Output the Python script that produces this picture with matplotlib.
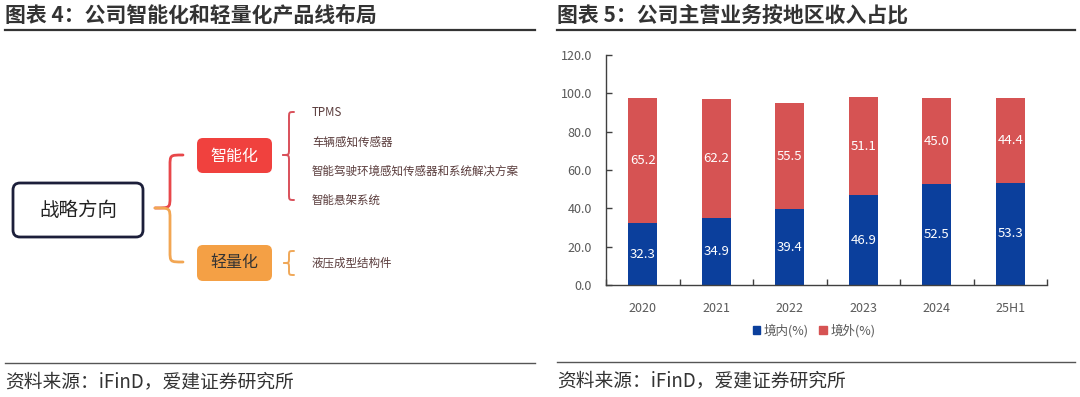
import matplotlib
matplotlib.use("Agg")
import matplotlib.pyplot as plt
from matplotlib.patches import FancyBboxPatch, PathPatch, Patch
from matplotlib.path import Path
import numpy as np

plt.rcParams['font.family'] = ['Noto Sans CJK SC', 'DejaVu Sans']

# ---------------- data ----------------
categories = ['2020', '2021', '2022', '2023', '2024', '25H1']
domestic = [32.3, 34.9, 39.4, 46.9, 52.5, 53.3]
overseas = [65.2, 62.2, 55.5, 51.1, 45.0, 44.4]
series_names = ['境内(%)', '境外(%)']
yticks = [0, 20, 40, 60, 80, 100, 120]

left_title = '图表 4：公司智能化和轻量化产品线布局'
right_title = '图表 5：公司主营业务按地区收入占比'
source_text = '资料来源：iFinD，爱建证券研究所'
root_label = '战略方向'
branch_labels = ['智能化', '轻量化']
smart_items = ['TPMS', '车辆感知传感器', '智能驾驶环境感知传感器和系统解决方案', '智能悬架系统']
light_items = ['液压成型结构件']

BLUE = '#0B3F9C'
RED = '#D65353'
GREY = '#595959'

W, H = 1080, 397
fig = plt.figure(figsize=(W / 100, H / 100), dpi=100)
fig.patch.set_facecolor('white')

ov = fig.add_axes([0, 0, 1, 1])
ov.set_xlim(0, W)
ov.set_ylim(H, 0)
ov.axis('off')

# titles + rules
ov.text(5, 15, left_title, fontsize=15, fontweight='bold', color='#333333', va='center', ha='left')
ov.text(557, 15, right_title, fontsize=15, fontweight='bold', color='#333333', va='center', ha='left')
ov.plot([5, 535], [30, 30], color='#333333', lw=1.6)
ov.plot([557, 1075], [30, 30], color='#333333', lw=1.6)

# footers
ov.plot([5, 535], [363, 363], color='#555555', lw=1.0)
ov.plot([557, 1075], [362, 362], color='#555555', lw=1.0)
ov.text(5, 382, source_text, fontsize=13.5, color='#333333', va='center', ha='left')
ov.text(557, 381, source_text, fontsize=13.5, color='#333333', va='center', ha='left')

# ---------------- left diagram ----------------
def rbox(x0, y0, x1, y1, fc, ec, lw, r=6):
    p = FancyBboxPatch((x0, y0), x1 - x0, y1 - y0,
                       boxstyle=f"round,pad=0,rounding_size={r}",
                       fc=fc, ec=ec, lw=lw)
    ov.add_patch(p)

rbox(13, 183, 143, 237, 'white', '#1c1f3a', 2.0, r=7)
ov.text(78, 210, root_label, fontsize=14, color='#222222', ha='center', va='center')

rbox(197, 138, 272, 173, '#F0413E', 'none', 0, r=6)
ov.text(234.5, 156, branch_labels[0], fontsize=11.5, color='white', ha='center', va='center')
rbox(197, 245, 272, 281, '#F4A045', 'none', 0, r=6)
ov.text(234.5, 263, branch_labels[1], fontsize=11.5, color='#333333', ha='center', va='center')


def half_brace(xt, ym, xb, xe, yend, r, color, lw):
    s = 1 if yend > ym else -1
    verts = [(xe, yend),
             (xb, yend), (xb, yend), (xb, yend - s * r),
             (xb, ym + s * r),
             (xb, ym), (xb, ym), (xt, ym)]
    codes = [Path.MOVETO,
             Path.CURVE4, Path.CURVE4, Path.CURVE4,
             Path.LINETO,
             Path.CURVE4, Path.CURVE4, Path.CURVE4]
    ov.add_patch(PathPatch(Path(verts, codes), fc='none', ec=color, lw=lw,
                           capstyle='round', joinstyle='round'))


# main brace
half_brace(155, 208, 170, 183, 155, 11, '#E8474A', 2.0)
half_brace(155, 208, 170, 183, 262, 11, '#F2A653', 2.0)
# small brace for smart items
half_brace(283, 155, 289, 294, 112, 6, '#D9505A', 1.4)
half_brace(283, 155, 289, 294, 200, 6, '#D9505A', 1.4)
# small brace for light items
half_brace(284, 263, 289, 294, 251, 5, '#F0A858', 1.4)
half_brace(284, 263, 289, 294, 275, 5, '#F0A858', 1.4)

item_y = [112, 142, 171, 200]
for t, y in zip(smart_items, item_y):
    ov.text(312, y, t, fontsize=8.3, color='#5a3c3c', ha='left', va='center')
for t in light_items:
    ov.text(312, 263, t, fontsize=8.3, color='#5a3c3c', ha='left', va='center')

# ---------------- right bar chart ----------------
ax = fig.add_axes([606 / W, (H - 285) / H, (1047 - 606) / W, 230 / H])
x = np.arange(len(categories))
b1 = ax.bar(x, domestic, width=0.4, color=BLUE, label=series_names[0])
b2 = ax.bar(x, overseas, width=0.4, bottom=domestic, color=RED, label=series_names[1])
for xi, d, o in zip(x, domestic, overseas):
    ax.text(xi, d / 2, f'{d:.1f}', ha='center', va='center', color='white', fontsize=9.5)
    ax.text(xi, d + o / 2, f'{o:.1f}', ha='center', va='center', color='white', fontsize=9.5)

ax.set_xlim(-0.5, len(categories) - 0.5)
ax.set_ylim(0, 120)
ax.set_yticks(yticks)
ax.set_yticklabels([f'{v:.1f}' for v in yticks])
ax.set_xticks(x)
ax.set_xticklabels(categories)
ax.set_xticks(np.arange(-0.5, len(categories)), minor=True)
ax.tick_params(axis='x', which='major', length=0, pad=12, labelsize=9, labelcolor=GREY)
ax.tick_params(axis='x', which='minor', direction='in', length=4, color='#404040', width=1)
ax.tick_params(axis='y', direction='in', length=4, color='#404040', width=1, pad=10,
               labelsize=9, labelcolor=GREY)
for s in ['top', 'right']:
    ax.spines[s].set_visible(False)
for s in ['left', 'bottom']:
    ax.spines[s].set_color('#404040')
    ax.spines[s].set_linewidth(1.0)

handles = [Patch(color=BLUE), Patch(color=RED)]
leg = fig.legend(handles, series_names, loc='center', bbox_to_anchor=(814 / W, (H - 331) / H),
                 ncol=2, frameon=False, fontsize=9, handlelength=0.6, handleheight=0.6,
                 columnspacing=0.8, handletextpad=0.3)
for t in leg.get_texts():
    t.set_color(GREY)

fig.savefig('out.png', dpi=100, facecolor='white')
